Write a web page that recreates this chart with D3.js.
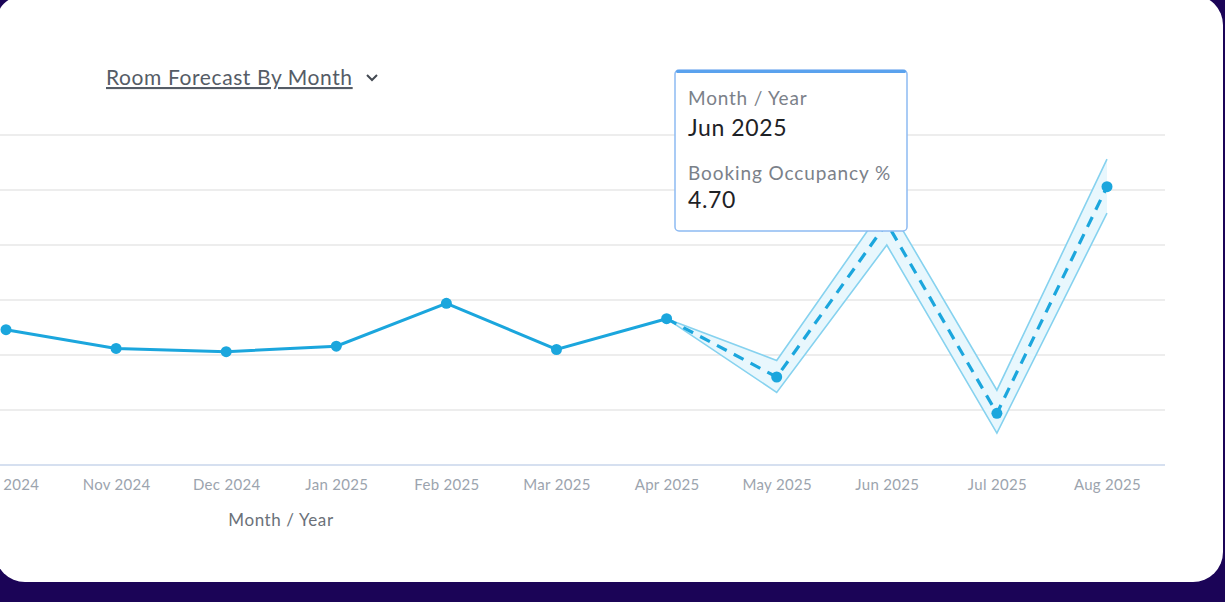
<!DOCTYPE html>
<html>
<head>
<meta charset="utf-8">
<script src="https://cdn.jsdelivr.net/npm/d3@7"></script>
<style>
  html, body { margin: 0; padding: 0; background: #1b0457; }
  svg { display: block; font-family: Lato, "Open Sans", sans-serif; }
</style>
</head>
<body>
<svg id="chart" width="1225" height="602"></svg>
<script>
// chart data
const months = ["Oct 2024", "Nov 2024", "Dec 2024", "Jan 2025", "Feb 2025", "Mar 2025",
                "Apr 2025", "May 2025", "Jun 2025", "Jul 2025", "Aug 2025"];
const actual = [3.73, 3.56, 3.53, 3.58, 3.97, 3.55, 3.83];   // Oct..Apr
const forecastMonths = ["Apr 2025", "May 2025", "Jun 2025", "Jul 2025", "Aug 2025"];
const forecast = [3.83, 3.30, 4.70, 2.97, 5.03];
const forecastUpper = [3.83, 3.45, 4.88, 3.18, 5.28];
const forecastLower = [3.83, 3.16, 4.50, 2.79, 4.79];
const yTicks = [2.5, 3, 3.5, 4, 4.5, 5, 5.5];

const svg = d3.select("#chart");
const color = "#1ba6dd";

// card background
svg.append("rect")
    .attr("x", -5).attr("y", -5)
    .attr("width", 1228).attr("height", 587)
    .attr("rx", 30)
    .attr("fill", "#ffffff");

const x = d3.scalePoint()
    .domain(months)
    .range([6, 1107]);

const y = d3.scaleLinear()
    .domain([2.5, 5.5])
    .range([465, 135]);

// gridlines
svg.append("g")
    .selectAll("line")
    .data(yTicks.slice(1))
    .enter()
    .append("line")
    .attr("x1", 0).attr("x2", 1165)
    .attr("y1", d => y(d)).attr("y2", d => y(d))
    .attr("stroke", "#ededed")
    .attr("stroke-width", 2);

// x axis
const xAxis = d3.axisBottom(x).tickSize(0).tickPadding(14);
const gx = svg.append("g")
    .attr("transform", `translate(0,${y(2.5)})`)
    .call(xAxis);
gx.select(".domain").remove();
gx.append("line")
    .attr("x1", 0).attr("x2", 1165)
    .attr("stroke", "#d6e0f0")
    .attr("stroke-width", 2);
gx.selectAll("text")
    .attr("fill", "#9ca4ae")
    .attr("font-size", 15)
    .attr("letter-spacing", 0.3)
    .attr("font-family", "Lato, sans-serif");

svg.append("text")
    .attr("x", 281).attr("y", 526)
    .attr("text-anchor", "middle")
    .attr("fill", "#6b7179")
    .attr("font-size", 17)
    .attr("letter-spacing", 0.6)
    .text("Month / Year");

// title
svg.append("text")
    .attr("x", 106).attr("y", 85)
    .attr("fill", "#555c66")
    .attr("font-size", 21)
    .attr("letter-spacing", 0.6)
    .attr("text-decoration", "underline")
    .text("Room Forecast By Month");
svg.append("path")
    .attr("d", "M367,75 L372,80 L377,75")
    .attr("fill", "none")
    .attr("stroke", "#444a52")
    .attr("stroke-width", 2);

// forecast band
const fData = forecastMonths.map((m, i) => ({ m, v: forecast[i], lo: forecastLower[i], hi: forecastUpper[i] }));
svg.append("path")
    .datum(fData)
    .attr("d", d3.area().x(d => x(d.m)).y0(d => y(d.lo)).y1(d => y(d.hi)))
    .attr("fill", "#e8f7fd")
    .attr("stroke", "none");
svg.append("path")
    .datum(fData)
    .attr("d", d3.line().x(d => x(d.m)).y(d => y(d.hi)))
    .attr("fill", "none").attr("stroke", "#86d2ef").attr("stroke-width", 1.6);
svg.append("path")
    .datum(fData)
    .attr("d", d3.line().x(d => x(d.m)).y(d => y(d.lo)))
    .attr("fill", "none").attr("stroke", "#86d2ef").attr("stroke-width", 1.6);

// forecast dashed line
svg.append("path")
    .datum(fData)
    .attr("d", d3.line().x(d => x(d.m)).y(d => y(d.v)))
    .attr("fill", "none")
    .attr("stroke", color)
    .attr("stroke-width", 3.2)
    .attr("stroke-dasharray", "11,8");

// actual line
const aData = actual.map((v, i) => ({ m: months[i], v }));
svg.append("path")
    .datum(aData)
    .attr("d", d3.line().x(d => x(d.m)).y(d => y(d.v)))
    .attr("fill", "none")
    .attr("stroke", color)
    .attr("stroke-width", 3);

// dots
svg.append("g")
    .selectAll("circle")
    .data(aData.concat(fData.slice(1)))
    .enter()
    .append("circle")
    .attr("cx", d => x(d.m))
    .attr("cy", d => y(d.v))
    .attr("r", 5.5)
    .attr("fill", color);

// tooltip
const tip = svg.append("g").attr("transform", "translate(675,70)");
tip.append("rect")
    .attr("width", 232).attr("height", 161)
    .attr("rx", 4)
    .attr("fill", "#ffffff")
    .attr("stroke", "#8dbaf2")
    .attr("stroke-width", 1.5);
tip.append("rect")
    .attr("x", 1).attr("y", 0)
    .attr("width", 230).attr("height", 3)
    .attr("rx", 1.5)
    .attr("fill", "#5aa2ee");
tip.append("text").attr("x", 13).attr("y", 35)
    .attr("fill", "#7b8189").attr("font-size", 19).attr("letter-spacing", 0.8)
    .text("Month / Year");
tip.append("text").attr("x", 13).attr("y", 66)
    .attr("fill", "#1e2226").attr("font-size", 23).attr("letter-spacing", 0.6)
    .text("Jun 2025");
tip.append("text").attr("x", 13).attr("y", 110)
    .attr("fill", "#7b8189").attr("font-size", 19).attr("letter-spacing", 0.9)
    .text("Booking Occupancy %");
tip.append("text").attr("x", 13).attr("y", 138)
    .attr("fill", "#1e2226").attr("font-size", 23).attr("letter-spacing", 0.6)
    .text(forecast[2].toFixed(2));
</script>
</body>
</html>
